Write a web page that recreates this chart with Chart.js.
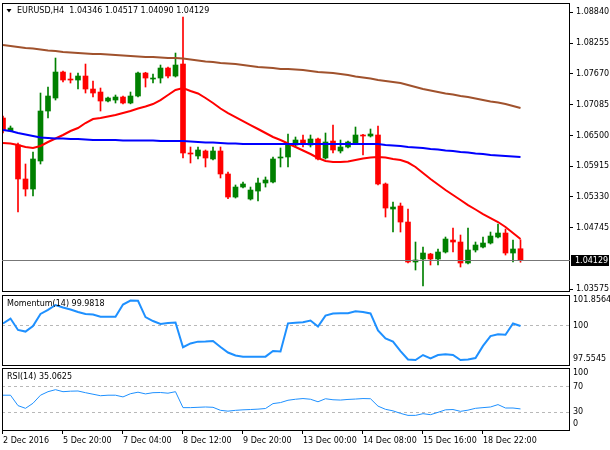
<!doctype html>
<html lang="en">
<head>
<meta charset="utf-8">
<title>EURUSD,H4</title>
<script src="https://cdn.jsdelivr.net/npm/chart.js@4.4.1/dist/chart.umd.min.js"></script>
<style>
  html, body { margin: 0; padding: 0; background: #fff; }
  #wrap { position: relative; width: 610px; height: 450px; overflow: hidden; }
  #wrap canvas { position: absolute; left: 0; }
</style>
</head>
<body>
<div id="wrap">
  <canvas id="cMain" width="610" height="296" style="top:0"></canvas>
  <canvas id="cMom" width="610" height="71" style="top:295px"></canvas>
  <canvas id="cRsi" width="610" height="82" style="top:368px"></canvas>
</div>

<script>
// ---- data ----
var symbol = "EURUSD";
var period = "H4";

var openP = [
  1.06831, 1.06584, 1.06318, 1.05672, 1.05481, 1.06014, 1.06964, 1.07211, 1.07705, 1.07572,
  1.07553, 1.07629, 1.07382, 1.07325, 1.07154, 1.07173, 1.07230, 1.07116, 1.07249, 1.07686,
  1.07572, 1.07591, 1.07781, 1.07629, 1.07857, 1.06166, 1.06109, 1.06204, 1.06052, 1.06204,
  1.05767, 1.05329, 1.05519, 1.05291, 1.05443, 1.05596, 1.05615, 1.06071, 1.06090, 1.06318,
  1.06413, 1.06318, 1.06432, 1.06071, 1.06394, 1.06204, 1.06280, 1.06356, 1.06508, 1.06489,
  1.06508, 1.05577, 1.05101, 1.05158, 1.04854, 1.04094, 1.04151, 1.04246, 1.04151, 1.04284,
  1.04512, 1.04474, 1.04075, 1.04322, 1.04379, 1.04455, 1.04569, 1.04645, 1.04265, 1.04346
];
var highP = [
  1.06869, 1.06679, 1.06356, 1.05957, 1.06185, 1.07306, 1.07420, 1.07971, 1.07724, 1.07686,
  1.07686, 1.07857, 1.07534, 1.07401, 1.07230, 1.07268, 1.07249, 1.07325, 1.07705, 1.07700,
  1.07667, 1.07838, 1.07800, 1.08066, 1.08751, 1.06280, 1.06280, 1.06223, 1.06280, 1.06280,
  1.05805, 1.05558, 1.05615, 1.05519, 1.05691, 1.05710, 1.06090, 1.06261, 1.06527, 1.06470,
  1.06508, 1.06508, 1.06451, 1.06546, 1.06698, 1.06413, 1.06394, 1.06660, 1.06520, 1.06622,
  1.06679, 1.05596, 1.05234, 1.05215, 1.05101, 1.04474, 1.04379, 1.04260, 1.04341, 1.04569,
  1.04740, 1.04607, 1.04740, 1.04474, 1.04569, 1.04664, 1.04816, 1.04721, 1.04512, 1.04517
];
var lowP = [
  1.06546, 1.06570, 1.05044, 1.05348, 1.05348, 1.05957, 1.06831, 1.07173, 1.07515, 1.07496,
  1.07382, 1.07306, 1.07230, 1.06964, 1.07135, 1.07116, 1.07100, 1.07100, 1.07230, 1.07420,
  1.07496, 1.07496, 1.07591, 1.07610, 1.06071, 1.05976, 1.06052, 1.05900, 1.06033, 1.05691,
  1.05300, 1.05310, 1.05500, 1.05272, 1.05253, 1.05519, 1.05596, 1.05900, 1.05900, 1.06280,
  1.06280, 1.06280, 1.06033, 1.06052, 1.06166, 1.06166, 1.06261, 1.06337, 1.06128, 1.06470,
  1.05558, 1.04949, 1.04664, 1.04664, 1.04075, 1.03942, 1.03638, 1.04037, 1.04037, 1.04265,
  1.04284, 1.03999, 1.04060, 1.04284, 1.04360, 1.04436, 1.04550, 1.04227, 1.04094, 1.04090
];
var closeP = [
  1.06603, 1.06641, 1.05672, 1.05481, 1.06052, 1.06964, 1.07249, 1.07705, 1.07553, 1.07553,
  1.07629, 1.07382, 1.07306, 1.07154, 1.07211, 1.07230, 1.07116, 1.07249, 1.07686, 1.07591,
  1.07591, 1.07781, 1.07629, 1.07838, 1.06166, 1.06147, 1.06223, 1.06071, 1.06204, 1.05767,
  1.05329, 1.05519, 1.05577, 1.05462, 1.05596, 1.05653, 1.06052, 1.06090, 1.06318, 1.06413,
  1.06337, 1.06432, 1.06052, 1.06375, 1.06223, 1.06280, 1.06375, 1.06508, 1.06489, 1.06527,
  1.05577, 1.05120, 1.05139, 1.04854, 1.04094, 1.04132, 1.04265, 1.04151, 1.04284, 1.04531,
  1.04474, 1.04075, 1.04322, 1.04417, 1.04455, 1.04588, 1.04645, 1.04265, 1.04341, 1.04129
];

// moving averages (red fast, blue, brown slow)
var maFast = [
  1.06356, 1.06346, 1.06318, 1.06280, 1.06261, 1.06299, 1.06375, 1.06441, 1.06508, 1.06584,
  1.06641, 1.06736, 1.06812, 1.06831, 1.06860, 1.06888, 1.06926, 1.06964, 1.07012, 1.07050,
  1.07097, 1.07173, 1.07268, 1.07363, 1.07401, 1.07344, 1.07297, 1.07211, 1.07116, 1.07012,
  1.06926, 1.06850, 1.06774, 1.06698, 1.06622, 1.06546, 1.06470, 1.06413, 1.06346, 1.06280,
  1.06213, 1.06147, 1.06071, 1.06014, 1.05995, 1.05995, 1.06004, 1.06033, 1.06061, 1.06080,
  1.06090, 1.06080, 1.06052, 1.06033, 1.05985, 1.05900, 1.05786, 1.05672, 1.05567, 1.05462,
  1.05367, 1.05272, 1.05177, 1.05092, 1.05006, 1.04930, 1.04854, 1.04759, 1.04645, 1.04531
];
var maMid = [
  1.06603, 1.06584, 1.06546, 1.06517, 1.06489, 1.06460, 1.06451, 1.06441, 1.06441, 1.06432,
  1.06432, 1.06422, 1.06413, 1.06413, 1.06413, 1.06413, 1.06403, 1.06403, 1.06403, 1.06403,
  1.06403, 1.06394, 1.06394, 1.06394, 1.06394, 1.06384, 1.06375, 1.06365, 1.06365, 1.06356,
  1.06346, 1.06346, 1.06337, 1.06337, 1.06337, 1.06337, 1.06337, 1.06337, 1.06337, 1.06337,
  1.06337, 1.06337, 1.06337, 1.06337, 1.06337, 1.06337, 1.06337, 1.06337, 1.06337, 1.06337,
  1.06337, 1.06318, 1.06308, 1.06299, 1.06280, 1.06270, 1.06261, 1.06242, 1.06232, 1.06213,
  1.06204, 1.06185, 1.06175, 1.06156, 1.06147, 1.06128, 1.06118, 1.06109, 1.06099, 1.06090
];
var maSlow = [
  1.08218, 1.08199, 1.08180, 1.08161, 1.08152, 1.08133, 1.08114, 1.08104, 1.08085, 1.08076,
  1.08066, 1.08057, 1.08047, 1.08047, 1.08038, 1.08028, 1.08019, 1.08009, 1.08000, 1.07990,
  1.07990, 1.07981, 1.07971, 1.07971, 1.07962, 1.07943, 1.07924, 1.07905, 1.07895, 1.07876,
  1.07867, 1.07857, 1.07838, 1.07819, 1.07800, 1.07791, 1.07781, 1.07762, 1.07762, 1.07753,
  1.07743, 1.07724, 1.07705, 1.07696, 1.07686, 1.07667, 1.07648, 1.07620, 1.07601, 1.07582,
  1.07553, 1.07534, 1.07515, 1.07496, 1.07458, 1.07420, 1.07382, 1.07354, 1.07325, 1.07297,
  1.07278, 1.07249, 1.07230, 1.07202, 1.07173, 1.07145, 1.07125, 1.07097, 1.07059, 1.07021
];

var momentum = [
  100.13, 100.43, 99.74, 99.64, 99.98, 100.71, 100.95, 101.25, 101.10, 100.98,
  100.83, 100.71, 100.67, 100.54, 100.54, 100.54, 101.28, 101.52, 101.51, 100.52,
  100.28, 100.10, 100.16, 100.19, 98.69, 98.92, 99.03, 99.04, 99.07, 98.71,
  98.37, 98.19, 98.12, 98.12, 98.12, 98.12, 98.46, 98.43, 100.14, 100.18,
  100.20, 100.31, 99.95, 100.61, 100.74, 100.75, 100.75, 100.87, 100.83, 100.74,
  99.71, 99.22, 99.03, 98.46, 97.95, 97.92, 98.22, 98.02, 98.22, 98.26,
  98.22, 97.92, 97.95, 98.04, 98.77, 99.37, 99.48, 99.45, 100.13, 99.9818
];
var rsi = [
  56.8, 56.8, 40.3, 36.0, 44.0, 56.8, 62.4, 65.6, 62.4, 63.2,
  63.5, 60.8, 58.4, 56.0, 56.8, 56.8, 54.1, 59.2, 61.6, 58.9,
  60.8, 61.1, 60.0, 62.4, 37.1, 37.1, 37.6, 38.1, 37.6, 32.8,
  31.5, 32.8, 33.6, 34.1, 34.7, 35.7, 43.5, 45.1, 48.8, 50.4,
  51.5, 50.4, 46.4, 51.2, 49.6, 49.1, 50.1, 50.7, 51.5, 51.2,
  39.5, 34.4, 32.0, 28.0, 24.8, 24.8, 27.5, 25.9, 29.6, 33.6,
  34.1, 31.2, 33.1, 36.0, 37.1, 38.1, 41.9, 36.5, 36.5, 35.0625
];

var tickBars = [0, 8, 16, 24, 32, 40, 48, 56, 64];
var tickLabels = ["2 Dec 2016", "5 Dec 20:00", "7 Dec 04:00", "8 Dec 12:00", "9 Dec 20:00",
                  "13 Dec 00:00", "14 Dec 08:00", "15 Dec 16:00", "18 Dec 22:00"];
var priceTicks = [1.03575, 1.04745, 1.05330, 1.05915, 1.06500, 1.07085, 1.07670, 1.08255, 1.08840];
var momRange = [97.5545, 101.8564];
var momLevels = [100];
var rsiLevels = [70, 30];

// ---- helpers ----
var idx = closeP.map(function (v, i) { return i; });
var last = closeP.length - 1;
var candleColor = idx.map(function (i) { return closeP[i] >= openP[i] ? '#008000' : '#ff0000'; });
var FONT = { family: 'DejaVu Sans', size: 8 };
var FONT_CSS = '8px "DejaVu Sans"';

function pts(arr) {
    return arr.map(function (v, i) { return { x: i, y: v }; });
}

function fixY(scale) {
    scale.width = 40;
    scale.paddingTop = 0;
    scale.paddingBottom = 0;
}

function xScale(show) {
    return {
        type: 'linear', min: -0.1333, max: 75.6, display: show, offset: false,
        afterBuildTicks: function (s) { s.ticks = tickBars.map(function (v) { return { value: v }; }); },
        afterFit: function (s) {
            if (show) { s.height = 19; }
            s.paddingLeft = 0; s.paddingRight = 0;
        },
        grid: { offset: false, drawOnChartArea: false, drawTicks: true, tickLength: 3, color: '#000' },
        border: { display: false },
        ticks: {
            align: 'start', padding: 2, color: '#000', font: FONT, maxRotation: 0, autoSkip: false,
            callback: function (v) { return tickLabels[tickBars.indexOf(v)]; }
        }
    };
}

var framePlugin = {
    id: 'frame',
    afterDraw: function (chart) {
        var ctx = chart.ctx, a = chart.chartArea;
        ctx.save();
        ctx.strokeStyle = '#000';
        ctx.lineWidth = 1;
        ctx.strokeRect(a.left + 0.5, a.top + 0.5, a.right - a.left - 1, a.bottom - a.top - 1);
        ctx.restore();
    }
};

function panelText(caption, edges) {
    return {
        id: 'panelText',
        afterDraw: function (chart) {
            var ctx = chart.ctx, a = chart.chartArea, ys = chart.scales.y;
            ctx.save();
            ctx.font = FONT_CSS;
            ctx.fillStyle = '#000';
            ctx.textBaseline = 'middle';
            ctx.fillText(caption, 7, a.top + 8.5);
            edges.forEach(function (e) {
                var y = ys.getPixelForValue(e);
                y = Math.min(Math.max(y, a.top + 5), a.bottom - 7);
                ctx.fillText(String(e), a.right + 3, y);
            });
            ctx.restore();
        }
    };
}

var mainText = {
    id: 'mainText',
    afterDraw: function (chart) {
        var ctx = chart.ctx, a = chart.chartArea;
        var yC = chart.scales.y.getPixelForValue(closeP[last]);
        ctx.save();
        // current price line
        ctx.strokeStyle = '#777';
        ctx.lineWidth = 1;
        ctx.beginPath();
        ctx.moveTo(a.left, Math.round(yC) + 0.5);
        ctx.lineTo(a.right, Math.round(yC) + 0.5);
        ctx.stroke();
        // price tag
        ctx.fillStyle = '#000';
        ctx.fillRect(a.right + 1, Math.round(yC) - 5, 38, 11);
        ctx.fillStyle = '#fff';
        ctx.font = FONT_CSS;
        ctx.textBaseline = 'middle';
        ctx.fillText(closeP[last].toFixed(5), a.right + 5, Math.round(yC) + 0.5);
        // title
        ctx.fillStyle = '#000';
        ctx.beginPath();
        ctx.moveTo(6.5, 9);
        ctx.lineTo(11.5, 9);
        ctx.lineTo(9, 12.5);
        ctx.closePath();
        ctx.fill();
        var title = symbol + ',' + period + '  ' + openP[last].toFixed(5) + ' ' + highP[last].toFixed(5) +
                    ' ' + lowP[last].toFixed(5) + ' ' + closeP[last].toFixed(5);
        ctx.fillText(title, 17, 11);
        ctx.restore();
    }
};

function lineSet(arr, color, width) {
    return { type: 'line', data: pts(arr), borderColor: color, borderWidth: width,
             pointRadius: 0, tension: 0, fill: false, order: 0 };
}

// ---- price panel ----
new Chart(document.getElementById('cMain'), {
    type: 'bar',
    data: {
        datasets: [
            lineSet(maSlow, '#a0522d', 2),
            lineSet(maMid, '#0000ff', 2),
            lineSet(maFast, '#ff0000', 2),
            {
                type: 'bar', order: 2, grouped: false, barThickness: 1,
                data: idx.map(function (i) { return { x: i, y: [lowP[i], highP[i]] }; }),
                backgroundColor: candleColor, borderWidth: 0
            },
            {
                type: 'bar', order: 1, grouped: false, barThickness: 5, minBarLength: 1,
                data: idx.map(function (i) { return { x: i, y: [openP[i], closeP[i]] }; }),
                backgroundColor: candleColor, borderWidth: 0
            }
        ]
    },
    options: {
        responsive: false, animation: false, events: [],
        layout: { padding: { top: 3, left: 2, right: 0, bottom: 4 } },
        plugins: { legend: { display: false }, tooltip: { enabled: false } },
        scales: {
            x: xScale(false),
            y: {
                position: 'right', min: 1.03524, max: 1.09017, beginAtZero: false,
                afterFit: fixY,
                afterBuildTicks: function (s) { s.ticks = priceTicks.map(function (v) { return { value: v }; }); },
                grid: { drawOnChartArea: false, drawTicks: true, tickLength: 3, color: '#000' },
                border: { display: false },
                ticks: { padding: 3, color: '#000', font: FONT, autoSkip: false,
                         callback: function (v) { return v.toFixed(5); } }
            }
        }
    },
    plugins: [framePlugin, mainText]
});

// ---- momentum panel ----
new Chart(document.getElementById('cMom'), {
    type: 'line',
    data: { datasets: [lineSet(momentum, '#1e90ff', 2)] },
    options: {
        responsive: false, animation: false, events: [],
        layout: { padding: { top: 0, left: 2, right: 0, bottom: 0 } },
        plugins: { legend: { display: false }, tooltip: { enabled: false } },
        scales: {
            x: xScale(false),
            y: {
                position: 'right', min: momRange[0], max: momRange[1],
                afterFit: fixY,
                afterBuildTicks: function (s) { s.ticks = momLevels.map(function (v) { return { value: v }; }); },
                grid: { drawOnChartArea: true, drawTicks: false, color: '#b8b8b8' },
                border: { display: false, dash: [3, 3] },
                ticks: { padding: 3, color: '#000', font: FONT, autoSkip: false }
            }
        }
    },
    plugins: [framePlugin, panelText('Momentum(14) ' + momentum[last].toFixed(4), [momRange[1], momRange[0]])]
});

// ---- RSI panel ----
new Chart(document.getElementById('cRsi'), {
    type: 'line',
    data: { datasets: [lineSet(rsi, '#1e90ff', 1)] },
    options: {
        responsive: false, animation: false, events: [],
        layout: { padding: { top: 0, left: 2, right: 0, bottom: 0 } },
        plugins: { legend: { display: false }, tooltip: { enabled: false } },
        scales: {
            x: xScale(true),
            y: {
                position: 'right', min: 0, max: 100,
                afterFit: fixY,
                afterBuildTicks: function (s) { s.ticks = rsiLevels.map(function (v) { return { value: v }; }); },
                grid: { drawOnChartArea: true, drawTicks: false, color: '#b8b8b8' },
                border: { display: false, dash: [3, 3] },
                ticks: { padding: 3, color: '#000', font: FONT, autoSkip: false }
            }
        }
    },
    plugins: [framePlugin, panelText('RSI(14) ' + rsi[last].toFixed(4), [100, 0])]
});
</script>
</body>
</html>
